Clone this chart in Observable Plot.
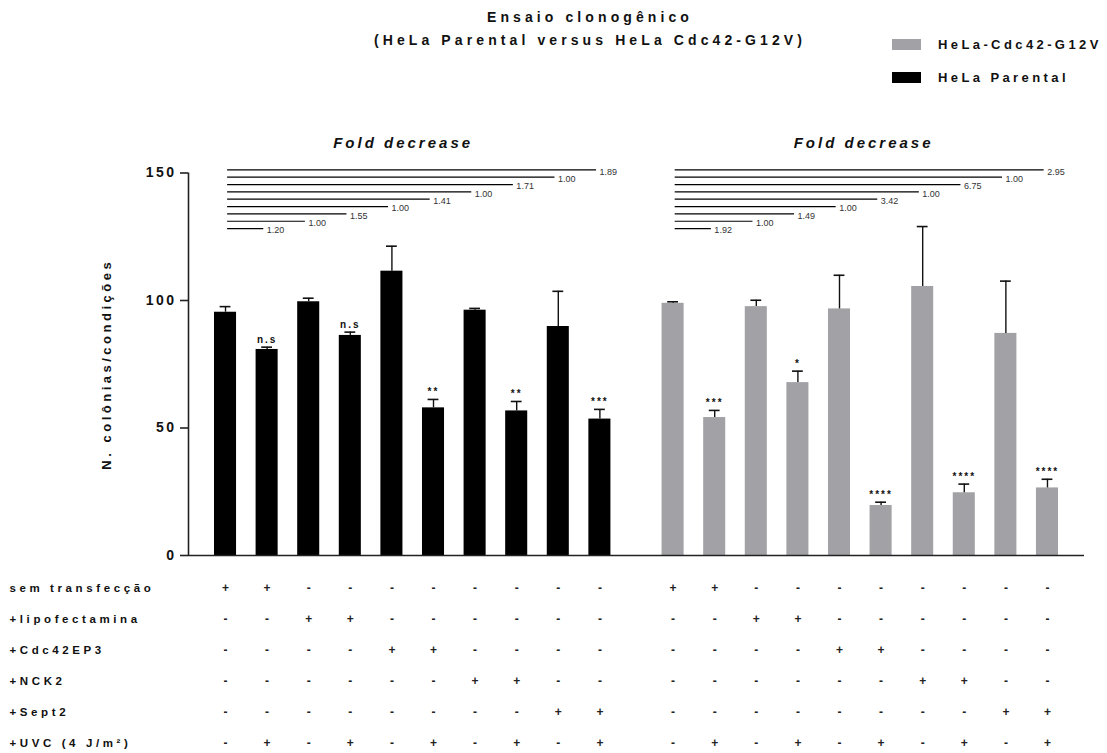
<!DOCTYPE html>
<html>
<head>
<meta charset="utf-8">
<script src="https://cdn.jsdelivr.net/npm/d3@7"></script>
<script src="https://cdn.jsdelivr.net/npm/@observablehq/plot@0.6"></script>
<style>
  html, body { margin: 0; padding: 0; background: #fff; overflow: hidden; }
  body { font-family: "Liberation Sans", Arial, sans-serif; width: 1107px; height: 753px; }
  #header { position: relative; width: 1107px; height: 100px; }
  .title { position: absolute; left: 590px; transform: translate(-50%, -50%); font-weight: bold;
           font-size: 14px; letter-spacing: 4.1px; white-space: nowrap; color: #111; }
  .sw { position: absolute; left: 892px; width: 29px; height: 11px; }
  .lg { position: absolute; left: 938px; transform: translateY(-50%); font-weight: bold; font-size: 13px;
        letter-spacing: 3.4px; white-space: nowrap; color: #111; }
  g[aria-description="ylabel"] text { letter-spacing: 3.5px; }
  g[aria-description="heading"] text { letter-spacing: 3px; }
  g[aria-description="sig"] text { letter-spacing: 2px; }
  g[aria-description="rowlabel"] text { letter-spacing: 3.6px; }
  g[aria-description="yticks"] text, g[aria-label="y-axis tick label"] text { letter-spacing: 2.5px; }
</style>
</head>
<body>
<div id="header"></div>
<div id="chart"></div>
<div id="table"></div>
<script>
// ---------------- data ----------------
const groups = ["HeLa Parental", "HeLa-Cdc42-G12V"];
const groupColors = ["#000000", "#a2a1a6"];
const parentalMean = [95.4, 80.8, 99.5, 86.3, 111.5, 57.9, 96.2, 56.7, 89.8, 53.5];
const parentalSem  = [2.2, 0.9, 1.4, 1.3, 9.8, 3.3, 0.7, 3.7, 13.8, 3.8];
const g12vMean     = [98.9, 54.1, 97.6, 67.8, 96.7, 19.6, 105.5, 24.6, 87.1, 26.5];
const g12vSem      = [0.6, 2.8, 2.5, 4.5, 13.2, 1.3, 23.5, 3.4, 20.5, 3.4];
const parentalSig  = ["", "n.s", "", "n.s", "", "**", "", "**", "", "***"];
const g12vSig      = ["", "***", "", "*", "", "****", "", "****", "", "****"];
const parentalFold = ["1.20", "1.00", "1.55", "1.00", "1.41", "1.00", "1.71", "1.00", "1.89"];
const g12vFold     = ["1.92", "1.00", "1.49", "1.00", "3.42", "1.00", "6.75", "1.00", "2.95"];
const rowLabels = ["sem transfecção", "+lipofectamina", "+Cdc42EP3", "+NCK2", "+Sept2", "+UVC (4 J/m\u00b2)"];
const rowSigns = [
  ["+", "+", "-", "-", "-", "-", "-", "-", "-", "-"],
  ["-", "-", "+", "+", "-", "-", "-", "-", "-", "-"],
  ["-", "-", "-", "-", "+", "+", "-", "-", "-", "-"],
  ["-", "-", "-", "-", "-", "-", "+", "+", "-", "-"],
  ["-", "-", "-", "-", "-", "-", "-", "-", "+", "+"],
  ["-", "+", "-", "+", "-", "+", "-", "+", "-", "+"]
];
const yTicks = [0, 50, 100, 150];
const yLabel = "N. colônias/condições";
const headingText = "Fold decrease";
const titleLines = ["Ensaio clonogênico", "(HeLa Parental versus HeLa Cdc42-G12V)"];
const legendOrder = ["HeLa-Cdc42-G12V", "HeLa Parental"];

// ---------------- layout helpers ----------------
const groupStart = [0, 10.76];
const headingOffset = [4.27, 4.58];
const xDomain = [-0.89, 20.65];
const means = [parentalMean, g12vMean];
const sems = [parentalSem, g12vSem];
const sigs = [parentalSig, g12vSig];
const folds = [parentalFold, g12vFold];

const bars = [];
groups.forEach((g, gi) => {
  means[gi].forEach((m, k) => {
    bars.push({group: g, x: groupStart[gi] + k, mean: m, top: m + sems[gi][k], sig: sigs[gi][k]});
  });
});
const brackets = [];
groups.forEach((g, gi) => {
  folds[gi].forEach((lab, i) => {
    brackets.push({x1: groupStart[gi] + 0.05, x2: groupStart[gi] + i + 1 - 0.08, y: 128.2 + i * 2.88, label: lab});
  });
});
const headings = groups.map((g, gi) => ({x: groupStart[gi] + headingOffset[gi], text: headingText}));
const cells = [];
groups.forEach((g, gi) => {
  rowSigns.forEach((signs, r) => {
    signs.forEach((s, k) => cells.push({x: groupStart[gi] + k, row: rowLabels[r], sign: s}));
  });
});

// ---------------- header (title + legend) ----------------
const header = document.getElementById("header");
[17, 40].forEach((top, i) => {
  const d = document.createElement("div");
  d.className = "title"; d.style.top = top + "px"; d.textContent = titleLines[i];
  header.appendChild(d);
});
legendOrder.forEach((name, i) => {
  const cy = [44, 77][i];
  const sw = document.createElement("div");
  sw.className = "sw"; sw.style.top = (cy - 5.5) + "px";
  sw.style.background = groupColors[groups.indexOf(name)];
  header.appendChild(sw);
  const t = document.createElement("div");
  t.className = "lg"; t.style.top = cy + "px"; t.textContent = name;
  header.appendChild(t);
});

// ---------------- main chart ----------------
const font = "font-family: 'Liberation Sans', Arial, sans-serif; background: #fff; overflow: visible;";
const chart = Plot.plot({
  width: 1107, height: 470,
  marginLeft: 188, marginRight: 23, marginTop: 72.5, marginBottom: 15,
  style: font,
  x: {domain: xDomain, axis: null},
  y: {domain: [0, 150], axis: null},
  color: {domain: groups, range: groupColors},
  marks: [
    Plot.rectY(bars, {x1: d => d.x - 0.265, x2: d => d.x + 0.265, y1: 0, y2: "mean", fill: "group"}),
    Plot.ruleX(bars, {x: "x", y1: "mean", y2: "top", stroke: "#111", strokeWidth: 1.4}),
    Plot.ruleY(bars, {y: "top", x1: d => d.x - 0.13, x2: d => d.x + 0.13, stroke: "#111", strokeWidth: 1.6}),
    Plot.text(bars.filter(d => d.sig), {x: "x", y: "top", text: "sig", dy: -4, lineAnchor: "bottom",
      fontSize: 10, fontWeight: "bold", fill: "#111", ariaDescription: "sig"}),
    Plot.ruleY(brackets, {y: "y", x1: "x1", x2: "x2", stroke: "#000", strokeWidth: 1.2}),
    Plot.text(brackets, {x: "x2", y: "y", text: "label", textAnchor: "start", dx: 3, dy: 2,
      fontSize: 9, fill: "#333", ariaDescription: "fold"}),
    Plot.text(headings, {x: "x", text: "text", frameAnchor: "top", dy: -35.5, fontSize: 15,
      fontWeight: "bold", fontStyle: "italic", fill: "#111", ariaDescription: "heading"}),
    Plot.ruleY([0], {stroke: "#222", strokeWidth: 1.6}),
    Plot.ruleX([xDomain[0]], {y1: 0, y2: 150, stroke: "#222", strokeWidth: 1.6}),
    Plot.axisY({ticks: yTicks, tickSize: 8, tickPadding: 4, tickFormat: d => String(d), label: null,
      fontSize: 14, fontWeight: "bold", stroke: "#222", strokeWidth: 1.6, fill: "#111", ariaDescription: "yticks"}),
    Plot.text([yLabel], {text: d => d, frameAnchor: "left", textAnchor: "middle", rotate: -90, dx: -82,
      fontSize: 13, fontWeight: "bold", fill: "#111", ariaDescription: "ylabel"})
  ]
});
document.getElementById("chart").appendChild(chart);

// ---------------- condition table ----------------
const table = Plot.plot({
  width: 1107, height: 183,
  marginLeft: 188, marginRight: 23, marginTop: 17, marginBottom: 10,
  style: font,
  x: {domain: xDomain, axis: null},
  y: {type: "point", domain: rowLabels, padding: 0, axis: null},
  marks: [
    Plot.text(cells, {x: "x", y: "row", text: "sign", fontSize: 12, fontWeight: "bold", fill: "#222"}),
    Plot.text(rowLabels, {y: d => d, text: d => d, frameAnchor: "left", textAnchor: "start", dx: -179,
      fontSize: 11.5, fontWeight: "bold", fill: "#111", ariaDescription: "rowlabel"})
  ]
});
document.getElementById("table").appendChild(table);
</script>
</body>
</html>
